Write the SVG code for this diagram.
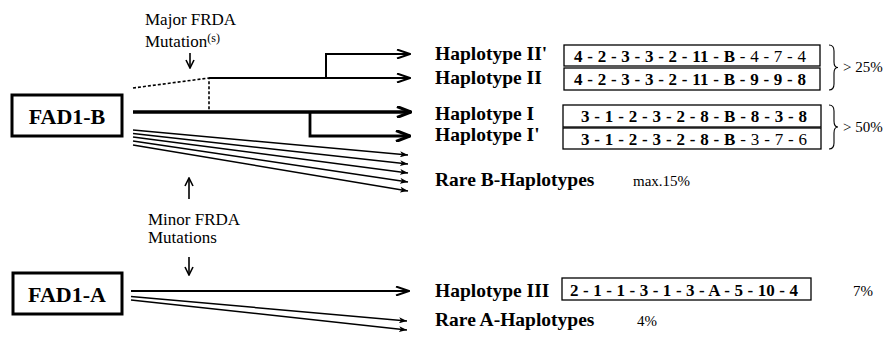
<svg xmlns="http://www.w3.org/2000/svg" width="890" height="340" viewBox="0 0 890 340">
<style>
text{font-family:"Liberation Serif","Times New Roman",serif;fill:#000}
.b{font-weight:bold}
.lab{font-size:19.5px;font-weight:bold}
.seq{font-size:17px;font-weight:bold}
.n{font-weight:normal}
.ann{font-size:17px}
.pct{font-size:15px}
.box{fill:#fff;stroke:#000;stroke-width:1.3}
.node{fill:#fff;stroke:#000;stroke-width:3}
.ln{fill:none;stroke:#000;stroke-width:2}
</style>
<defs>
<marker id="open" viewBox="0 0 15 10" refX="14" refY="5" markerWidth="15" markerHeight="10" markerUnits="userSpaceOnUse" orient="auto">
<path d="M1,0.5 L14,5 L1,9.5" fill="none" stroke="#000" stroke-width="2"/>
</marker>
<marker id="thick" viewBox="0 0 16 12" refX="15" refY="6" markerWidth="16" markerHeight="12" markerUnits="userSpaceOnUse" orient="auto">
<path d="M1,0.5 L15,6 L1,11.5" fill="none" stroke="#000" stroke-width="3"/>
</marker>
<marker id="small" viewBox="0 0 8 6" refX="8" refY="3" markerWidth="8" markerHeight="6" markerUnits="userSpaceOnUse" orient="auto">
<path d="M0,0 L8,3 L0,6 L2,3 z" fill="#000"/>
</marker>
<marker id="tiny" viewBox="0 0 10 10" refX="9" refY="5" markerWidth="10" markerHeight="10" markerUnits="userSpaceOnUse" orient="auto">
<path d="M1,1 L9,5 L1,9" fill="none" stroke="#000" stroke-width="1.6"/>
</marker>
</defs>

<g id="connectors">
  <path d="M133,88 L209,78 L209,112" fill="none" stroke="#000" stroke-width="1.6" stroke-dasharray="3,2"/>
  <path class="ln" d="M209,78 L410,78" marker-end="url(#open)"/>
  <path class="ln" d="M326,78 L326,54 L410,54" marker-end="url(#open)"/>
  <path d="M133,112 L411,112" fill="none" stroke="#000" stroke-width="3.5" marker-end="url(#thick)"/>
  <path d="M310,112 L310,136 L410,136" fill="none" stroke="#000" stroke-width="2.8" marker-end="url(#thick)"/>
  <g fill="none" stroke="#000" stroke-width="1.5">
    <path d="M133,130 L408,155" marker-end="url(#small)"/>
    <path d="M133,133.5 L408,164" marker-end="url(#small)"/>
    <path d="M133,137 L408,173" marker-end="url(#small)"/>
    <path d="M133,141 L408,182" marker-end="url(#small)"/>
    <path d="M133,145 L408,191" marker-end="url(#small)"/>
  </g>
  <path class="ln" d="M131,291 L409,291" marker-end="url(#open)"/>
  <g fill="none" stroke="#000" stroke-width="1.5">
    <path d="M131,296.5 L407,321" marker-end="url(#small)"/>
    <path d="M131,300 L407,330" marker-end="url(#small)"/>
  </g>
  <g fill="none" stroke="#000" stroke-width="1.6">
    <path d="M190,53 L190,68" marker-end="url(#tiny)"/>
    <path d="M189,199 L189,178" marker-end="url(#tiny)"/>
    <path d="M189,257 L189,275" marker-end="url(#tiny)"/>
  </g>
</g>

<g id="fad1b">
  <rect class="node" x="12" y="95" width="110" height="41"/>
  <text x="67" y="124" font-size="22" class="b" text-anchor="middle">FAD1-B</text>
</g>
<g id="fad1a">
  <rect class="node" x="13" y="273" width="109" height="41"/>
  <text x="67" y="302" font-size="22" class="b" text-anchor="middle">FAD1-A</text>
</g>

<g id="major-mutation">
  <text class="ann" x="145" y="25">Major FRDA</text>
  <text class="ann" x="145" y="47">Mutation<tspan font-size="12" dy="-5">(s)</tspan></text>
</g>
<g id="minor-mutation">
  <text class="ann" x="148" y="225">Minor FRDA</text>
  <text class="ann" x="148" y="243">Mutations</text>
</g>

<g id="hap2p">
  <text class="lab" x="435" y="60">Haplotype II'</text>
  <rect class="box" x="564" y="45" width="256" height="21"/>
  <text class="seq" x="574" y="61.5" textLength="232" lengthAdjust="spacing">4 - 2 - 3 - 3 - 2 - 11 - B<tspan class="n"> - 4 - 7 - 4</tspan></text>
</g>
<g id="hap2">
  <text class="lab" x="435" y="84">Haplotype II</text>
  <rect class="box" x="564" y="68" width="256" height="22"/>
  <text class="seq" x="574" y="85" textLength="232" lengthAdjust="spacing">4 - 2 - 3 - 3 - 2 - 11 - B - 9 - 9 - 8</text>
</g>
<g id="brace25">
  <path d="M829,45 Q834,45 834,51 L834,62 Q834,67.5 838,67.5 Q834,67.5 834,73 L834,84 Q834,90 829,90" fill="none" stroke="#000" stroke-width="1.1"/>
  <text class="pct" x="843" y="72">&gt; 25%</text>
</g>
<g id="hap1">
  <text class="lab" x="435" y="120">Haplotype I</text>
  <rect class="box" x="563" y="105" width="258" height="22"/>
  <text class="seq" x="581" y="122" textLength="226" lengthAdjust="spacing">3 - 1 - 2 - 3 - 2 - 8 - B - 8 - 3 - 8</text>
</g>
<g id="hap1p">
  <text class="lab" x="435" y="141">Haplotype I'</text>
  <rect class="box" x="563" y="128" width="258" height="21"/>
  <text class="seq" x="581" y="144.5" textLength="226" lengthAdjust="spacing">3 - 1 - 2 - 3 - 2 - 8 - B<tspan class="n"> - 3 - 7 - 6</tspan></text>
</g>
<g id="brace50">
  <path d="M829,105 Q834,105 834,111 L834,121 Q834,127 838,127 Q834,127 834,133 L834,143 Q834,149 829,149" fill="none" stroke="#000" stroke-width="1.1"/>
  <text class="pct" x="843" y="132">&gt; 50%</text>
</g>
<g id="rareB">
  <text class="lab" x="435" y="186">Rare B-Haplotypes</text>
  <text class="pct" x="633" y="186">max.15%</text>
</g>
<g id="hap3">
  <text class="lab" x="435" y="297">Haplotype III</text>
  <rect class="box" x="562" y="278" width="249" height="22"/>
  <text class="seq" x="570" y="295.5" textLength="228" lengthAdjust="spacing">2 - 1 - 1 - 3 - 1 - 3 - A - 5 - 10 - 4</text>
  <text class="pct" x="853" y="296">7%</text>
</g>
<g id="rareA">
  <text class="lab" x="435" y="326">Rare A-Haplotypes</text>
  <text class="pct" x="637" y="326">4%</text>
</g>
</svg>
